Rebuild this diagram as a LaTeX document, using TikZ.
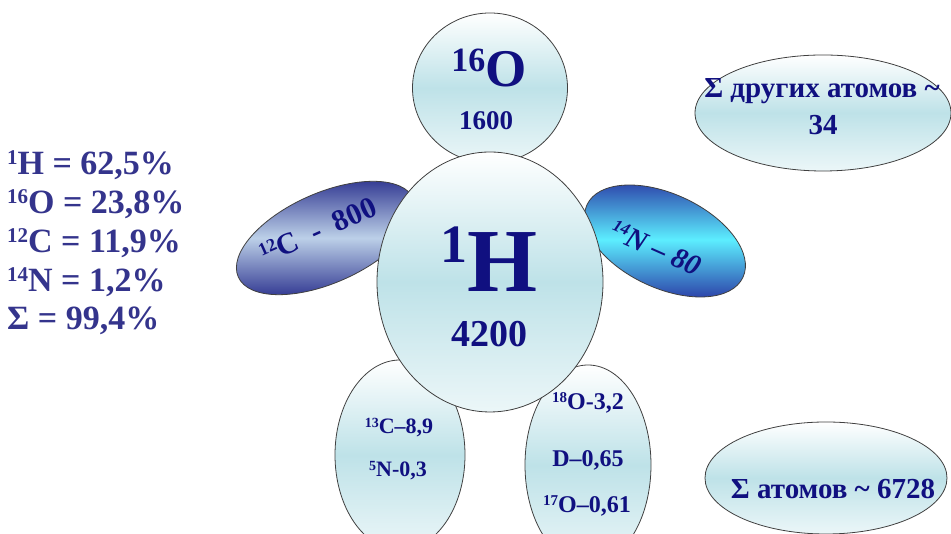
\documentclass[tikz,border=0pt]{standalone}
\usepackage{fontspec}
\setmainfont{Liberation Serif}
\usetikzlibrary{shapes.geometric}

\definecolor{inkblue}{RGB}{16,16,128}
\definecolor{listblue}{RGB}{52,52,140}
\definecolor{paleteal}{RGB}{190,226,232}
\definecolor{navyedge}{RGB}{40,46,140}
\definecolor{steelmid}{RGB}{188,208,232}
\definecolor{cyanmid}{RGB}{92,238,255}
\definecolor{cyanedge}{RGB}{42,58,165}

\newcommand\fs[1]{\fontsize{#1}{#1}\selectfont}
\newcommand\iso[2]{\raisebox{0.3em}{\fs{#1}#2}}

\tikzset{
  blob/.style={ellipse, draw=black!75, line width=0.8pt, inner sep=0pt},
  pale/.style={blob, top color=white, bottom color=white!70!paleteal, middle color=paleteal},
  steel/.style={blob, top color=navyedge, bottom color=navyedge, middle color=steelmid},
  cyanish/.style={blob, top color=cyanedge, bottom color=cyanedge, middle color=cyanmid},
  txt/.style={text=inkblue, font=\bfseries, inner sep=0pt, anchor=base}
}

\begin{document}
\begin{tikzpicture}[x=1pt, y=1pt]
  \useasboundingbox (0,0) rectangle (951,534);

  % satellites behind the hydrogen
  \node (oxy) [pale, minimum width=155pt, minimum height=150pt] at (490,446) {};
  \node (carb) [steel, rotate=24, minimum width=192pt, minimum height=90pt] at (326,296) {};
  \node (nitr) [cyanish, rotate=-25, minimum width=172pt, minimum height=94pt] at (665,293) {};
  \node (minorl) [pale, minimum width=130pt, minimum height=190pt] at (400,79) {};
  \node (minorr) [pale, minimum width=126pt, minimum height=200pt] at (588,69) {};
  \node (hyd) [pale, minimum width=226pt, minimum height=260pt] at (490,252) {};

  % sums on the right
  \node (others) [pale, minimum width=256pt, minimum height=116pt] at (823,421) {};
  \node (total) [pale, minimum width=242pt, minimum height=112pt] at (826,56) {};

  % labels
  \node (oxyname) [txt] at (489,447) {\fs{53}\iso{34}{16}O};
  \node (oxynum) [txt] at (486,404) {\fs{27}1600};
  \node (hydname) [txt] at (489,242) {\raisebox{29pt}{\fs{54}1}\fs{90}H};
  \node (hydnum) [txt] at (489,187) {\fs{38}4200};
  \node (carbtxt) [txt, anchor=center, rotate=24] at (318,304) {\fs{30}\iso{18}{12}C\ \ -\ \ 800};
  \node (nitrtxt) [txt, anchor=center, rotate=-24, font=\bfseries\itshape] at (656,286) {\fs{29}\iso{17}{14}N -- 80};
  \node (c13) [txt] at (399,100) {\fs{22}\iso{14}{13}C--8,9};
  \node (n5) [txt] at (398,57) {\fs{22}\iso{14}{5}N-0,3};
  \node (o18) [txt] at (588,124) {\fs{24}\iso{15}{18}O-3,2};
  \node (deut) [txt] at (588,67) {\fs{24}D--0,65};
  \node (o17) [txt] at (587,21) {\fs{24}\iso{15}{17}O--0,61};
  \node (otherstxt) [txt] at (822,436) {\fs{29}Σ других атомов \textasciitilde};
  \node (othersnum) [txt] at (823,399) {\fs{29}34};
  \node (totaltxt) [txt] at (833,35) {\fs{29}Σ атомов \textasciitilde\ 6728};

  % shares on the left
  \foreach \n/\el/\val [count=\i] in {1/H/{62,5}, 16/O/{23,8}, 12/C/{11,9}, 14/N/{1,2}}
    \node (share\i) [txt, text=listblue, anchor=base west] at (7,398-39*\i)
      {\fs{34}\iso{21}{\n}\el\ = \val\%};
  \node (sharesum) [txt, text=listblue, anchor=base west] at (7,204) {\fs{34}Σ = 99,4\%};
\end{tikzpicture}
\end{document}
